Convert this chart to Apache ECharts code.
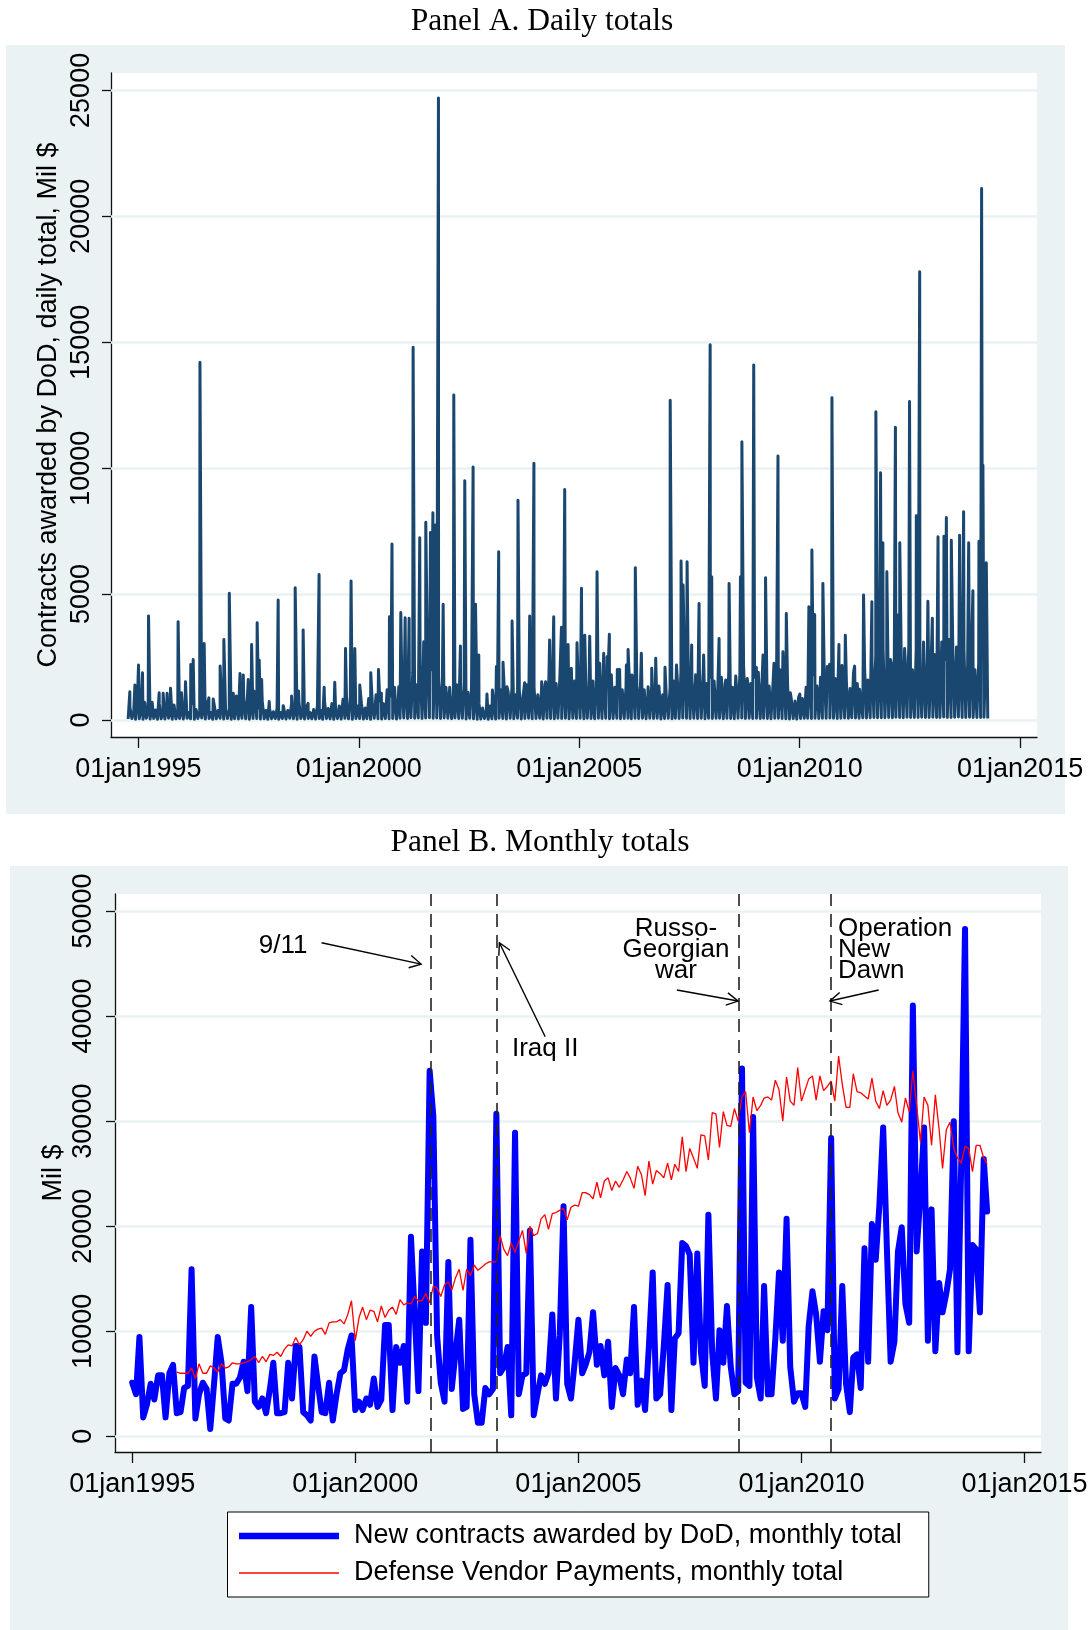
<!DOCTYPE html>
<html><head><meta charset="utf-8">
<script src="https://cdn.jsdelivr.net/npm/echarts@6/dist/echarts.min.js"></script>
<style>html,body{margin:0;padding:0;background:#fff}#c{width:1091px;height:1630px}</style>
</head><body><div id="c"></div>
<script>
// ---------------- DATA ----------------
// Panel B: monthly totals (Mil $)
const contractsStart = [1995, 1];   // first month of contracts series
const contractsMonthly = [
 5100,4000,9450,1800,3000,5000,3500,5800,5800,1800,6000,6800,        // 1995
 2200,2300,4600,4800,15900,1700,4000,5100,4500,700,5000,9450,        // 1996
 7000,1700,1500,5000,5000,5600,7100,4300,12300,3300,2800,3600,       // 1997
 2200,4500,7000,2200,2200,2300,7000,3600,8600,8500,2300,2000,        // 1998
 1500,7600,5000,2300,2200,5100,1500,4000,6000,6300,8300,9600,        // 1999
 2500,3300,2500,3600,3000,5500,2800,3500,10600,10600,2500,8500,      // 2000
 7000,8600,3300,19000,11800,4300,17600,10800,34800,30500,9600,5100,  // 2001
 3300,16600,4500,8000,11100,2600,2800,18700,4000,1300,1300,4600,     // 2002
 4000,4500,30700,6000,6600,8500,2000,28900,4000,5800,6000,19600,     // 2003
 2000,4000,5800,5000,6000,11600,3600,9600,21900,5000,3600,7000,      // 2004
 11100,6000,6800,8000,11800,6800,8600,5800,9000,2800,6500,5800,      // 2005
 4000,7300,6000,12300,3000,5300,2500,8600,15600,3600,4000,8600,      // 2006
 14400,2500,9300,9800,18400,18100,17300,7000,17400,8000,4800,21100,  // 2007
 8000,3600,10100,7000,12400,6600,4000,4300,35000,5100,4800,30400,    // 2008
 5600,3600,14300,4000,4000,9300,15600,9100,20700,6600,3300,4100,     // 2009
 4100,2800,10500,13800,11600,7100,11900,10100,28400,3600,4500,14300, // 2010
 5000,2300,7500,7800,4600,17900,7100,20200,16800,22000,29400,18000,  // 2011
 7100,9000,17600,19900,12600,10800,41000,17600,23000,29400,9100,21600, // 2012
 8100,14600,11800,13600,15900,30000,8000,26000,48300,8100,18200,17800, // 2013
 11800,26400,21400                                                   // 2014
];
const vendorStart = [1996, 1];
const vendorPayments = [
 6100,6000,6000,6000,6500,5500,6900,6000,6000,6700,6500,6100,        // 1996
 6900,6500,6600,7000,6900,6900,7000,7100,7300,7600,7000,7600,        // 1997
 7100,7800,7700,8000,7600,8300,8700,8600,9400,8700,9200,10000,       // 1998
 9500,10000,10200,10300,9700,10800,10900,10900,11100,10700,11600,12900, // 1999
 9100,11300,12300,11100,12000,11900,10900,12400,11300,12000,12300,11600, // 2000
 13000,12500,12700,12600,13300,12900,12900,13600,12700,14300,14100,13300, // 2001
 14400,14700,13900,15100,15900,13900,15900,15300,16300,15800,16100,16400, // 2002
 16600,16600,16600,19100,17800,17200,18400,17500,18600,19600,17400,20000, // 2003
 19100,19300,20700,21100,19700,21200,21300,21500,21700,20600,21800,22000, // 2004
 21900,23200,23200,23000,22600,24200,22700,24300,24600,23400,24300,23700, // 2005
 24400,25200,24600,23600,25700,24900,22900,26200,24000,25300,25000,24600, // 2006
 26000,24400,25900,25200,28500,25200,27400,26500,25500,28700,28600,26300, // 2007
 30800,30700,27500,30900,29600,29500,31200,30000,32300,32800,28900,32300, // 2008
 31000,31500,32200,32300,32000,33900,33000,30000,34200,31900,31500,35100, // 2009
 31900,33000,34000,34300,32000,34300,32900,33300,33800,31900,36200,33500, // 2010
 31300,31300,34500,32800,32700,32400,32100,34100,31900,31200,32900,31500, // 2011
 32000,33300,30800,29900,32200,30900,34800,31500,28000,32300,31500,27700, // 2012
 32500,29200,25500,29200,29900,27400,26500,26000,27600,27400,25200,27700, // 2013
 27700,26500,25900                                                   // 2014
];

// Panel A: daily totals (Mil $) - visible spikes
const dailySpikes = [
 ['1994-10-22',1120],['1994-12-03',1390],['1995-01-02',2180],['1995-02-04',1880],['1995-03-26',4130],['1995-04-25',700],
 ['1995-06-22',1080],['1995-07-25',1060],['1995-08-27',1060],['1995-09-24',1260],['1995-11-26',3900],['1995-12-24',1080],
 ['1996-01-26',1520],['1996-03-10',2200],['1996-03-30',2400],['1996-05-25',14200],['1996-06-29',3040],['1996-08-07',880],
 ['1996-09-12',830],['1996-11-08',2140],['1996-12-09',3200],
 ['1997-01-23',5030],['1997-02-25',1060],['1997-04-22',1850],['1997-05-19',1790],['1997-06-29',1610],['1997-07-27',3000],
 ['1997-08-15',1150],['1997-09-11',3860],['1997-09-28',2380],['1997-10-18',1610],['1997-12-20',730],
 ['1998-03-04',4760],['1998-04-15',570],['1998-06-23',950],['1998-07-23',5250],['1998-08-20',1150],['1998-09-27',3570],['1998-11-07',660],
 ['1999-02-06',5780],['1999-03-20',1300],['1999-06-16',1500],['1999-09-13',2840],['1999-10-29',5520],['1999-11-29',2840],
 ['2000-01-09',1390],['2000-04-09',1880],['2000-06-12',2010],['2000-07-06',1060],['2000-09-11',4100],['2000-10-02',6990],
 ['2000-11-27',1320],['2000-12-14',4270],
 ['2001-01-19',4060],['2001-02-21',4040],['2001-03-26',14800],['2001-05-20',7240],['2001-06-22',3110],['2001-07-09',7850],
 ['2001-08-17',7440],['2001-09-06',8230],['2001-09-27',7740],['2001-10-22',24700],['2001-11-30',4600],
 ['2002-02-26',12900],['2002-04-22',2940],['2002-05-28',9500],['2002-08-05',10050],['2002-08-25',4600],['2002-09-21',2580],['2002-11-28',1030],
 ['2003-01-12',1190],['2003-02-14',2120],['2003-03-05',6680],['2003-04-10',2290],['2003-05-13',1320],['2003-06-24',3930],
 ['2003-08-12',8730],['2003-10-06',1480],['2003-11-17',4130],['2003-12-22',10190],
 ['2004-02-24',1520],['2004-03-28',1520],['2004-04-30',3180],['2004-06-03',4100],['2004-08-06',3680],['2004-09-02',9150],
 ['2004-09-30',3000],['2004-10-27',2050],['2004-12-13',3070],
 ['2005-01-19',5230],['2005-02-15',3370],['2005-03-28',3330],['2005-04-25',860],['2005-05-28',5890],['2005-06-19',2250],
 ['2005-07-22',2650],['2005-08-19',2510],['2005-09-07',3400],['2005-11-12',2010],['2005-12-01',2010],['2005-12-24',1120],
 ['2006-01-26',2180],['2006-02-09',2800],['2006-03-13',1790],['2006-04-10',6050],['2006-04-27',1150],['2006-05-30',2650],
 ['2006-07-25',1320],['2006-08-24',2050],['2006-09-26',2450],['2006-12-12',2090],
 ['2007-01-24',12700],['2007-03-17',2180],['2007-04-24',6310],['2007-05-11',5360],['2007-06-13',6280],['2007-07-21',2980],
 ['2007-09-20',4630],['2007-10-28',2580],['2007-12-21',14900],
 ['2008-01-03',5690],['2008-03-04',3240],['2008-04-01',1720],['2008-04-28',1590],['2008-05-26',5420],['2008-07-20',1750],
 ['2008-08-28',5690],['2008-09-09',11050],['2008-10-30',1390],['2008-12-16',14100],
 ['2009-01-07',2090],['2009-03-03',2580],['2009-03-24',5650],['2009-06-02',2250],['2009-07-05',10480],['2009-08-15',2710],
 ['2009-09-12',4230],['2009-10-15',1080],
 ['2010-01-02',1030],['2010-03-18',4500],['2010-04-12',6750],['2010-05-05',4190],['2010-06-01',1030],['2010-07-12',5420],
 ['2010-08-18',2120],['2010-09-06',2210],['2010-09-25',12800],['2010-11-22',3000],['2010-12-17',2160],
 ['2011-01-14',3370],['2011-03-04',1320],['2011-04-01',2140],['2011-05-12',1220],['2011-06-14',4960],['2011-07-20',1590],
 ['2011-08-22',4700],['2011-09-24',12240],['2011-11-02',9820],['2011-11-21',7040],['2011-12-24',5890],
 ['2012-01-30',2250],['2012-03-04',11620],['2012-03-25',4170],['2012-04-09',7040],['2012-05-19',2840],['2012-06-29',12650],
 ['2012-08-24',8110],['2012-09-21',17800],['2012-11-28',4720],
 ['2013-01-04',4040],['2013-02-20',7280],['2013-04-10',7300],['2013-04-30',8040],['2013-06-10',7140],['2013-08-18',7340],
 ['2013-09-20',8270],['2013-11-01',7040],['2013-12-06',5130],
 ['2014-01-25',7100],['2014-02-16',21100],['2014-02-27',10120],['2014-03-27',6240]
];
// Panel A: low-level daily activity, two readings per month (8th, 23rd), from Oct 1994
const dailyFloorStart = [1994, 10];
const dailyFloor = [
 40,500, 60,300, 30,700,
 50,450, 30,700, 70,350, 40,550, 60,400, 30,650, 50,300, 40,500, 70,380, 30,600, 50,320, 60,480,
 40,550, 70,300, 50,650, 30,420, 60,340, 80,500, 40,600, 60,300, 30,520, 50,380, 70,650, 40,450,
 60,420, 30,750, 50,950, 40,560, 70,800, 50,1000, 30,650, 60,900, 60,480, 40,750, 50,380, 30,460,
 50,330, 60,480, 30,300, 60,560, 40,380, 70,650, 50,420, 30,720, 60,340, 40,480, 60,300, 50,420,
 40,560, 60,380, 30,750, 60,460, 50,650, 30,380, 60,560, 40,820, 70,480, 50,950, 30,720, 60,560,
 60,650, 40,480, 60,850, 30,560, 70,1000, 50,750, 40,650, 60,1200, 50,950, 60,1300, 40,750, 70,1400,
 80,1500, 60,1200, 90,1900, 70,1400, 80,2200, 60,1700, 80,2400, 90,2000, 70,2300, 80,1700, 60,1500, 80,1300,
 70,1300, 50,1000, 80,1400, 60,1200, 70,1500, 40,1100, 70,1300, 50,850, 30,650, 40,480, 60,380, 30,560,
 50,650, 40,1000, 70,1200, 60,900, 40,1100, 70,1300, 50,1000, 70,1200, 40,950, 60,1400, 70,1100, 50,1300,
 60,1000, 70,1200, 40,1400, 70,1500, 60,1300, 50,1450, 70,1600, 60,1350, 70,1700, 50,1300, 70,1550, 60,1400,
 70,1450, 50,1650, 70,1300, 60,1550, 50,1700, 70,1450, 60,1600, 70,1350, 50,1800, 60,1300, 70,1500, 50,1200,
 60,1350, 70,1200, 50,1550, 70,1300, 60,1450, 70,1200, 50,1000, 70,1300, 60,1100, 70,1350, 40,1000, 60,900,
 70,1300, 50,1550, 70,1700, 60,1900, 80,2100, 70,1700, 60,1550, 70,1800, 60,2000, 70,1650, 50,1450, 70,1700,
 60,1550, 70,1350, 70,1700, 50,1450, 70,1900, 60,1300, 50,1550, 70,1800, 80,2200, 60,1650, 70,1450, 60,1700,
 70,1900, 60,1550, 70,1700, 60,1350, 50,1300, 70,1550, 70,2000, 60,1650, 50,1350, 40,850, 60,750, 40,900,
 60,850, 70,1300, 70,1650, 60,1800, 70,1350, 60,1700, 70,1900, 70,1550, 80,2200, 70,1650, 60,1900, 70,1550,
 80,1500, 70,1250, 90,1900, 80,1450, 70,1150, 90,2000, 80,1350, 90,2300, 100,2600, 90,1800, 90,2800, 90,2100,
 100,2400, 90,1700, 110,2900, 100,1900, 90,2500, 110,3000, 100,2000, 100,2800, 100,1900, 110,3100, 100,2300, 100,2000,
 110,2600, 100,2900, 100,3100, 120,2400, 100,3200, 100,2600, 110,2900, 120,2300, 100,2800, 100,2100, 110,2500, 100,2000,
 100,2300, 100,2600, 110,2900, 60
];

// Axis ticks
const xTickYears = [1995, 2000, 2005, 2010, 2015];
const yTicksA = [0, 5000, 10000, 15000, 20000, 25000];
const yTicksB = [0, 10000, 20000, 30000, 40000, 50000];

// Events (Panel B)
const eventDates = ['2001-09-11', '2003-03-01', '2008-08-08', '2010-09-01'];
const annotationTexts = [
 {text: '9/11', at: ['1998-05-20', 46700], align: 'center'},
 {text: 'Iraq II', at: ['2004-04-04', 36850], align: 'center'},
 {text: 'Russo-\nGeorgian\nwar', at: ['2007-03-11', 46300], align: 'center'},
 {text: 'Operation\nNew\nDawn', at: ['2010-10-27', 46300], align: 'left'}
];
const annotationArrows = [
 {from: ['1999-03-31', 46980], to: ['2001-06-23', 44950]},
 {from: ['2004-04-04', 38030], to: ['2003-03-26', 46980]},
 {from: ['2007-03-18', 42480], to: ['2008-07-31', 41430]},
 {from: ['2011-09-25', 42480], to: ['2010-08-22', 41430]}
];

const legendNames = ['New contracts awarded by DoD, monthly total', 'Defense Vendor Payments, monthly total'];

// ---------------- BUILD ----------------
function d(s) { const p = s.split('-').map(Number); return new Date(p[0], p[1] - 1, p[2] || 1).getTime(); }
const F = '"Liberation Sans", Arial, Helvetica, sans-serif';
const SERIF = '"Liberation Serif", "Times New Roman", Times, serif';
const GRAYBG = '#eaf2f3';

const contractsData = contractsMonthly.map((v, i) => [new Date(contractsStart[0], contractsStart[1] - 1 + i, 1).getTime(), v]);
const vendorData = vendorPayments.map((v, i) => [new Date(vendorStart[0], vendorStart[1] - 1 + i, 1).getTime(), v]);

const dailyData = [];
dailyFloor.forEach((v, i) => {
  const mon = Math.floor(i / 2);
  const day = (i % 2 === 0) ? 8 : 23;
  dailyData.push([new Date(dailyFloorStart[0], dailyFloorStart[1] - 1 + mon, day).getTime(), v]);
});
dailySpikes.forEach(s => dailyData.push([d(s[0]), s[1]]));
dailyData.sort((a, b) => a[0] - b[0]);

const xTickVals = xTickYears.map(y => new Date(y, 0, 1).getTime());
const fmtX = v => '01jan' + new Date(Math.round(v)).getFullYear();
const fmtY = v => String(Math.round(v));

function xAxisCfg(gi, mn, mx, margin) {
  return {
    gridIndex: gi, type: 'value', min: d(mn), max: d(mx), scale: true,
    axisLine: {show: true, onZero: false, lineStyle: {color: '#111', width: 1.3}},
    axisTick: {show: true, inside: false, length: 11, customValues: xTickVals, lineStyle: {color: '#111', width: 1.3}},
    axisLabel: {show: true, customValues: xTickVals, formatter: fmtX, fontSize: 27, fontFamily: F, color: '#000', margin: margin},
    splitLine: {show: false}, minorTick: {show: false}
  };
}
function yAxisCfg(gi, mn, mx, ticks, margin) {
  return {
    gridIndex: gi, type: 'value', min: mn, max: mx,
    axisLine: {show: true, onZero: false, lineStyle: {color: '#111', width: 1.3}},
    axisTick: {show: true, inside: false, length: 9, customValues: ticks, lineStyle: {color: '#111', width: 1.3}},
    axisLabel: {show: true, customValues: ticks, formatter: fmtY, rotate: 90, fontSize: 27, fontFamily: F, color: '#000', margin: margin},
    splitLine: {show: false}
  };
}
function gridLines(ticks) {
  return {
    silent: true, symbol: 'none', z: 1, animation: false,
    label: {show: false}, emphasis: {disabled: true},
    lineStyle: {color: GRAYBG, width: 2.5, type: 'solid'},
    data: ticks.map(v => ({yAxis: v}))
  };
}

const chart = echarts.init(document.getElementById('c'), null, {renderer: 'canvas', width: 1091, height: 1630});

chart.setOption({
  animation: false,
  backgroundColor: '#fff',
  textStyle: {fontFamily: F},
  grid: [
    {left: 111, top: 73, width: 926, height: 664, show: true, backgroundColor: '#fff', borderWidth: 0, containLabel: false, outerBoundsMode: 'none'},
    {left: 115, top: 894, width: 926, height: 558, show: true, backgroundColor: '#fff', borderWidth: 0, containLabel: false, outerBoundsMode: 'none'}
  ],
  xAxis: [xAxisCfg(0, '1994-05-19', '2015-05-21', 19), xAxisCfg(1, '1994-08-13', '2015-05-16', 19)],
  yAxis: [yAxisCfg(0, -675, 25690, yTicksA, 16), yAxisCfg(1, -1495, 51620, yTicksB, 18)],
  legend: {
    show: true, orient: 'vertical', left: 227.5, top: 1512,
    padding: [10.5, 27, 10.5, 11.5], itemGap: 10, itemWidth: 110, itemHeight: 20,
    backgroundColor: '#fff', borderColor: '#000', borderWidth: 1, borderRadius: 0,
    selectedMode: false,
    itemStyle: {borderWidth: 0},
    textStyle: {fontSize: 27, color: '#000', fontFamily: F},
    data: [
      {name: legendNames[0], icon: 'path://M0,0L0,0M110,20L110,20M0,6.8L100,6.8L100,13.2L0,13.2Z', itemStyle: {color: '#0000ff', borderWidth: 0}},
      {name: legendNames[1], icon: 'path://M0,0L0,0M110,20L110,20M0,9.3L100,9.3L100,10.7L0,10.7Z', itemStyle: {color: '#ff0000', borderWidth: 0}}
    ]
  },
  series: [
    {
      name: 'Contracts awarded by DoD, daily total', type: 'line', xAxisIndex: 0, yAxisIndex: 0,
      data: dailyData, symbol: 'none', showSymbol: false, z: 3,
      lineStyle: {color: '#1a476f', width: 3, join: 'round'}, itemStyle: {color: '#1a476f'},
      emphasis: {disabled: true}, silent: true,
      markLine: gridLines(yTicksA)
    },
    {
      name: legendNames[0], type: 'line', xAxisIndex: 1, yAxisIndex: 1,
      data: contractsData, symbol: 'none', showSymbol: false, z: 3,
      lineStyle: {color: '#0000ff', width: 6, join: 'round', cap: 'round'}, itemStyle: {color: '#0000ff'},
      emphasis: {disabled: true}, silent: true,
      markLine: gridLines(yTicksB)
    },
    {
      name: legendNames[1], type: 'line', xAxisIndex: 1, yAxisIndex: 1,
      data: vendorData, symbol: 'none', showSymbol: false, z: 4,
      lineStyle: {color: '#ff0000', width: 1.3}, itemStyle: {color: '#ff0000'},
      emphasis: {disabled: true}, silent: true,
      markLine: {
        silent: true, symbol: 'none', z: 5, label: {show: false}, emphasis: {disabled: true},
        lineStyle: {color: '#222', width: 1.6, type: [13, 8]},
        data: eventDates.map(s => ({xAxis: d(s)}))
      }
    }
  ]
});

// ---------------- annotation graphics ----------------
function px(pt) { return chart.convertToPixel({gridIndex: 1}, [d(pt[0]), pt[1]]); }
const g = [
  {type: 'rect', z: -10, silent: true, shape: {x: 6, y: 45, width: 1059, height: 769}, style: {fill: GRAYBG}},
  {type: 'rect', z: -10, silent: true, shape: {x: 10, y: 866, width: 1058, height: 764}, style: {fill: GRAYBG}},
  {type: 'text', x: 542, y: 22, silent: true, style: {text: 'Panel A. Daily totals', font: '31.5px ' + SERIF, fill: '#000', textAlign: 'center', textVerticalAlign: 'middle', verticalAlign: 'middle'}},
  {type: 'text', x: 540, y: 843, silent: true, style: {text: 'Panel B. Monthly totals', font: '31.5px ' + SERIF, fill: '#000', textAlign: 'center', textVerticalAlign: 'middle', verticalAlign: 'middle'}},
  {type: 'text', x: 49, y: 405, rotation: Math.PI / 2, silent: true, style: {text: 'Contracts awarded by DoD, daily total, Mil $', font: '27px ' + F, fill: '#000', textAlign: 'center', textVerticalAlign: 'middle', verticalAlign: 'middle'}},
  {type: 'text', x: 54, y: 1173, rotation: Math.PI / 2, silent: true, style: {text: 'Mil $', font: '27px ' + F, fill: '#000', textAlign: 'center', textVerticalAlign: 'middle', verticalAlign: 'middle'}}
];
annotationTexts.forEach(a => {
  const p = px(a.at);
  g.push({type: 'text', x: p[0], y: p[1], z: 10, silent: true,
    style: {text: a.text, font: '26px ' + F, lineHeight: 21, fill: '#000', textAlign: a.align, align: a.align, textVerticalAlign: 'middle', verticalAlign: 'middle'}});
});
annotationArrows.forEach(a => {
  const p1 = px(a.from), p2 = px(a.to);
  const ang = Math.atan2(p2[1] - p1[1], p2[0] - p1[0]);
  const L = 13, w = 0.5;
  const h1 = [p2[0] - L * Math.cos(ang - w), p2[1] - L * Math.sin(ang - w)];
  const h2 = [p2[0] - L * Math.cos(ang + w), p2[1] - L * Math.sin(ang + w)];
  g.push({type: 'line', z: 10, silent: true, shape: {x1: p1[0], y1: p1[1], x2: p2[0], y2: p2[1]}, style: {stroke: '#000', lineWidth: 1.4}});
  g.push({type: 'polyline', z: 10, silent: true, shape: {points: [h1, p2, h2]}, style: {stroke: '#000', lineWidth: 1.4, fill: null}});
});
chart.setOption({graphic: g});
</script>
</body></html>
